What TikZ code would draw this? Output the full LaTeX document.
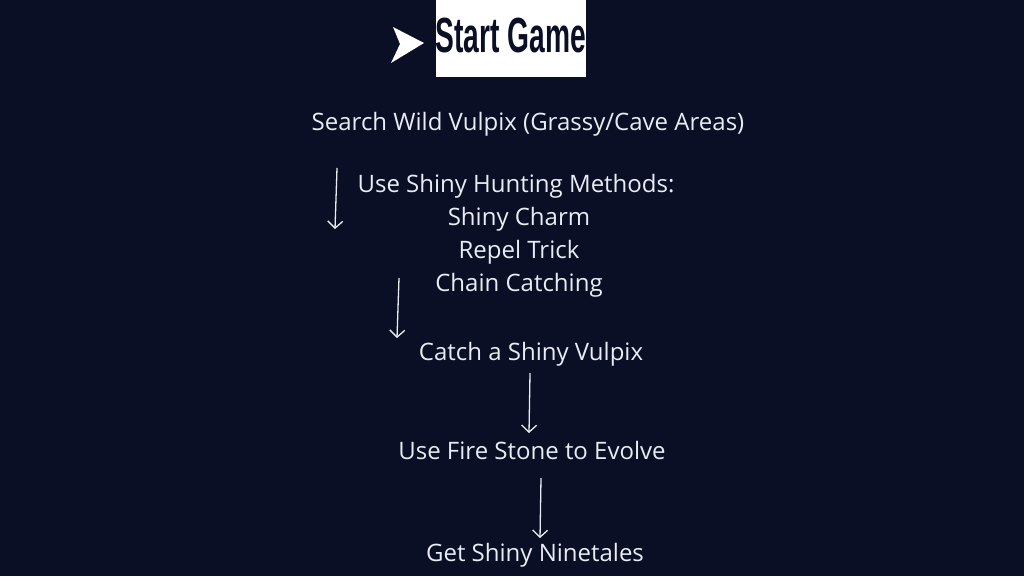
\documentclass[tikz,border=0pt]{standalone}
\usepackage{fontspec}
\setmainfont{Open Sans}
\newfontfamily\titlefont{Liberation Sans}
\definecolor{navybg}{HTML}{0A0F25}
\definecolor{paletext}{HTML}{E9ECF4}
\usetikzlibrary{arrows.meta}
\tikzset{
  step text/.style={text=paletext, font=\fontsize{24}{28}\selectfont, inner sep=0pt, anchor=center},
  flow arrow/.style={draw=paletext, line width=1.3pt, -{Straight Barb[length=7pt, width=15pt, line width=1.3pt]}}
}
\begin{document}
\begin{tikzpicture}[x=1pt, y=-1pt]
\fill[navybg] (0,0) rectangle (1024,576);
\useasboundingbox (0,0) rectangle (1024,576);

% title box
\fill[white] (436,0) rectangle (586,77);
\node[text=navybg, inner sep=0pt] (start) at (511,36)
  {\scalebox{0.6}[1.05]{\titlefont\bfseries\fontsize{47}{47}\selectfont Start Game}};
\fill[white] (393,27) -- (424,43) -- (391,63) -- (400,44) -- cycle;

\node[step text] (search) at (528,124) {Search Wild Vulpix (Grassy/Cave Areas)};
\node[step text] (methods) at (516,186) {Use Shiny Hunting Methods:};
\node[step text] (charm) at (519,219) {Shiny Charm};
\node[step text] (repel) at (519,252) {Repel Trick};
\node[step text] (chain) at (519,285) {Chain Catching};
\node[step text] (catch) at (531,354) {Catch a Shiny Vulpix};
\node[step text] (stone) at (532,450) {Use Fire Stone to Evolve};
\node[step text] (ninetales) at (535,555) {Get Shiny Ninetales};

\coordinate (a1) at (337,168);
\coordinate (b1) at (335,229);
\coordinate (a2) at (399,278);
\coordinate (b2) at (397,338);
\coordinate (a3) at (530,373);
\coordinate (b3) at (529,433);
\coordinate (a4) at (541,478);
\coordinate (b4) at (540,538);

\draw[flow arrow] (a1) -- (b1);
\draw[flow arrow] (a2) -- (b2);
\draw[flow arrow] (a3) -- (b3);
\draw[flow arrow] (a4) -- (b4);
\end{tikzpicture}
\end{document}
